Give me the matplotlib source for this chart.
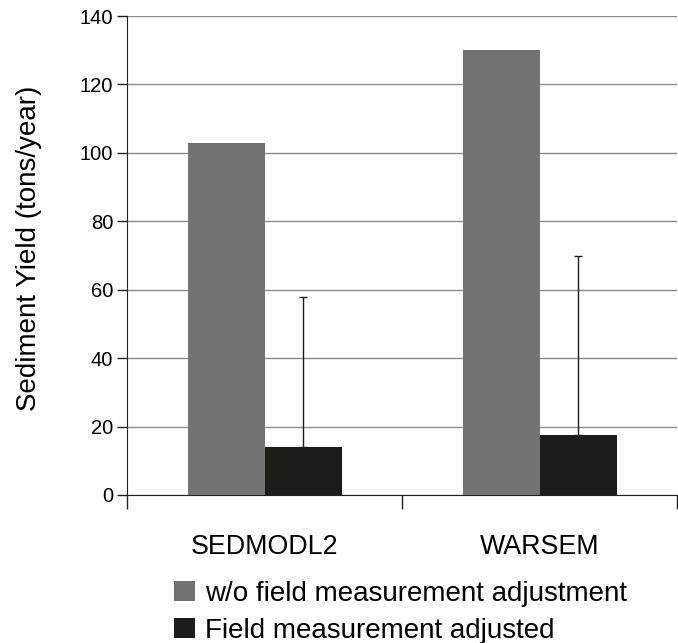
import matplotlib
matplotlib.use("Agg")
import matplotlib.pyplot as plt
import numpy as np

categories = ["SEDMODL2", "WARSEM"]
series_names = ["w/o field measurement adjustment", "Field measurement adjusted"]
unadjusted = [103, 130]
adjusted = [14, 17.5]
adjusted_err_upper = [44, 52.5]
yticks = [0, 20, 40, 60, 80, 100, 120, 140]

plt.rcParams['font.family'] = ['Liberation Sans', 'DejaVu Sans']

fig = plt.figure(figsize=(6.78, 6.43), dpi=100)
ax = fig.add_axes([127/678, 148/643, 550/678, 479/643])

x = np.arange(len(categories))
w = 0.28
ax.bar(x - w/2, unadjusted, width=w, color="#737373", label=series_names[0], zorder=3)
ax.bar(x + w/2, adjusted, width=w, color="#1c1c1a", label=series_names[1], zorder=3)
ax.errorbar(x + w/2, adjusted, yerr=[np.zeros(len(adjusted)), adjusted_err_upper],
            fmt="none", ecolor="#1c1c1a", elinewidth=1, capsize=3, zorder=4)

ax.set_ylim(0, 140)
ax.set_xlim(-0.5, len(categories) - 0.5)
ax.set_yticks(yticks)
ax.yaxis.grid(True, color="#8c8c8c", linewidth=1, zorder=0)
ax.tick_params(axis="y", labelsize=14.5, length=7, width=1, color="#222222", pad=3)
ax.set_xticks(x)
ax.set_xticklabels(categories)
ax.set_xticks(np.arange(-0.5, len(categories), 1.0), minor=True)
ax.tick_params(axis="x", which="major", length=0, labelsize=19.3, pad=28)
ax.tick_params(axis="x", which="minor", length=10, width=1, color="#222222")
for s in ["top", "right"]:
    ax.spines[s].set_visible(False)
ax.spines["left"].set_color("#222222")
ax.spines["bottom"].set_color("#222222")
ax.set_ylabel("Sediment Yield (tons/year)", fontsize=20)
ax.yaxis.set_label_coords(-0.1545, 0.515)

leg = fig.legend(loc="lower left", bbox_to_anchor=(149/678, -0.04), frameon=False,
                 fontsize=20, handlelength=0.75, handleheight=0.72, handletextpad=0.35,
                 labelspacing=0.4)

fig.savefig("out.png", dpi=100)
